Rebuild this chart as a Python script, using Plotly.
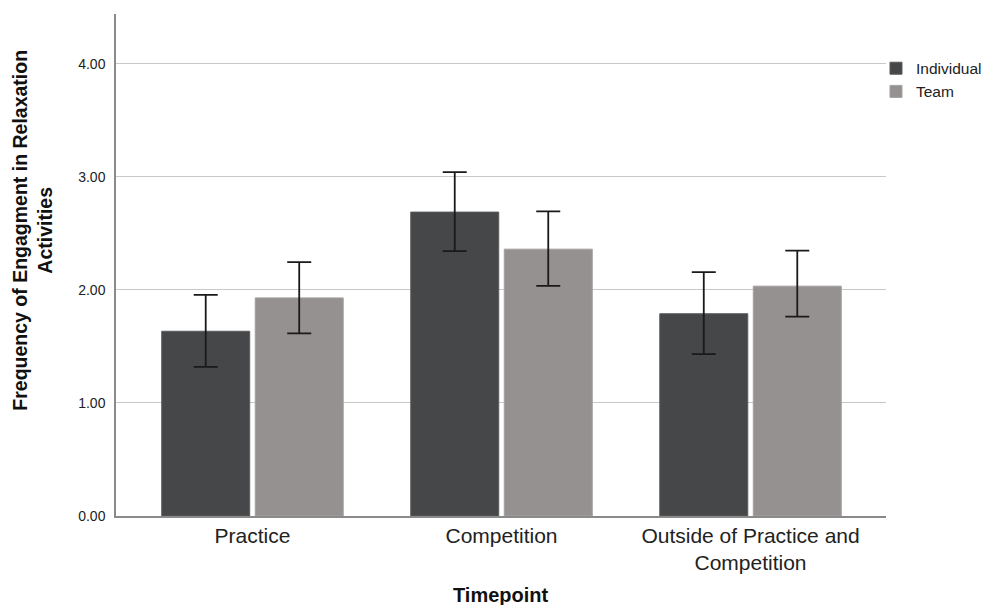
import plotly.graph_objects as go

# Timepoint categories and group means with error bar extents
timepoints = ["Practice", "Competition", "Outside of Practice and<br>Competition"]
individual_mean = [1.634, 2.688, 1.789]
individual_err_plus = [0.322, 0.353, 0.368]
individual_err_minus = [0.315, 0.346, 0.358]
team_mean = [1.929, 2.360, 2.033]
team_err_plus = [0.316, 0.334, 0.314]
team_err_minus = [0.313, 0.325, 0.270]
y_ticks = [0, 1, 2, 3, 4]
y_tick_labels = ["0.00", "1.00", "2.00", "3.00", "4.00"]

FONT = "Liberation Sans, Arial, sans-serif"

fig = go.Figure()
fig.add_trace(go.Bar(
    name="Individual", x=timepoints, y=individual_mean,
    marker=dict(color="#464749", line=dict(color="#5a5b5d", width=1)),
    error_y=dict(type="data", symmetric=False, array=individual_err_plus,
                 arrayminus=individual_err_minus, color="#1a1a1a",
                 thickness=1.8, width=12),
))
fig.add_trace(go.Bar(
    name="Team", x=timepoints, y=team_mean,
    marker=dict(color="#959190", line=dict(color="#a3a09f", width=1)),
    error_y=dict(type="data", symmetric=False, array=team_err_plus,
                 arrayminus=team_err_minus, color="#1a1a1a",
                 thickness=1.8, width=12),
))

fig.update_layout(
    width=986, height=605,
    margin=dict(l=116, r=100, t=14, b=89, autoexpand=False),
    plot_bgcolor="white", paper_bgcolor="white",
    barmode="group", bargap=0.249, bargroupgap=0.059,
    font=dict(family=FONT, color="#222222"),
    showlegend=True,
    legend=dict(x=0.987, y=0.925, xanchor="left", yanchor="top",
                font=dict(size=15.5, color="#222222"),
                tracegroupgap=0, itemwidth=30, bgcolor="rgba(0,0,0,0)"),
    xaxis=dict(
        range=[-0.548, 2.544], automargin=False,
        showline=True, linecolor="#8a8a8a", linewidth=1.5,
        ticks="", tickfont=dict(size=21, color="#222222"),
        showgrid=False,
    ),
    yaxis=dict(
        range=[0, 4.44], automargin=False,
        tickvals=y_ticks, ticktext=y_tick_labels,
        tickfont=dict(size=14, color="#222222"),
        showline=True, linecolor="#8a8a8a", linewidth=1.5,
        showgrid=True, gridcolor="#c8c8c8", gridwidth=1,
        zeroline=False, ticks="", ticklabelstandoff=6,
    ),
    annotations=[
        dict(
            text="<b>Frequency of Engagment in Relaxation<br>Activities</b>",
            xref="paper", yref="paper", x=-0.108, y=0.57,
            xanchor="center", yanchor="middle", textangle=-90,
            showarrow=False, font=dict(size=19.5, color="#111111"),
        ),
        dict(
            text="<b>Timepoint</b>",
            xref="paper", yref="paper", x=0.5, y=-0.157,
            xanchor="center", yanchor="middle",
            showarrow=False, font=dict(size=20, color="#111111"),
        ),
    ],
)

fig.write_html("out.html")
